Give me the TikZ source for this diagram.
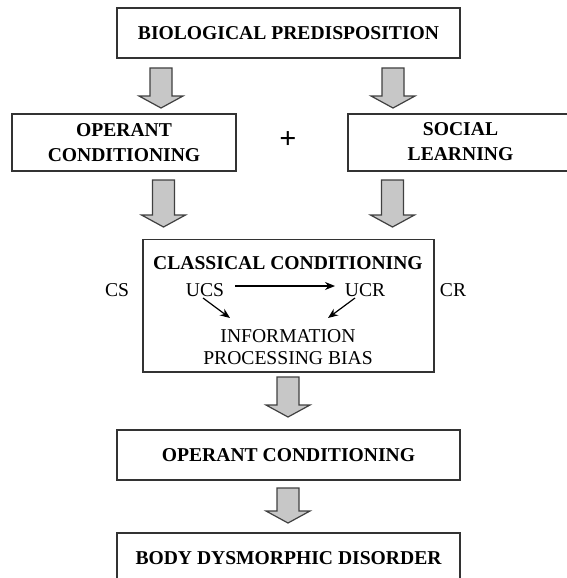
\documentclass[tikz,border=0pt]{standalone}
\usepackage{fontspec}
\setmainfont{Liberation Serif}
\usetikzlibrary{calc,arrows.meta}
\tikzset{
  box/.style={draw=black!80, line width=1.7pt, inner sep=0pt, align=center},
  lbl/.style={inner sep=0pt, align=center, font=\fontsize{19.6}{24.5}\selectfont\bfseries},
  plain/.style={inner sep=0pt, align=center, font=\fontsize{19.6}{21.5}\selectfont},
  blk/.style={draw=black!75, line width=1.2pt, fill=black!22, line join=miter},
  thin/.style={line width=1.2pt, -{Stealth[length=10pt,width=8pt]}}
}
\newcommand\blockarrow[2]{%
  \draw[blk] let \p1=(#1), \p2=(#2) in
    (\x1-11pt,\y1) -- (\x1+11pt,\y1) -- (\x1+11pt,\y2+12pt) -- (\x1+22pt,\y2+12pt)
    -- (\x2,\y2) -- (\x1-22pt,\y2+12pt) -- (\x1-11pt,\y2+12pt) -- cycle;}
\begin{document}
\begin{tikzpicture}[x=1pt,y=-1pt]
\useasboundingbox (0,0) rectangle (567,578);
\clip (0,0) rectangle (567,578);
% boxes
\node[box, lbl, minimum width=343pt, minimum height=50pt] (bio) at (288.5,33) {BIOLOGICAL PREDISPOSITION};
\node[box, lbl, minimum width=224pt, minimum height=57pt] (op1) at (124,142.5) {OPERANT\\CONDITIONING};
\node[box, minimum width=225pt, minimum height=57pt] (soc) at (460.5,142.5) {};
\node[lbl] (soct) at (460.5,141.5) {SOCIAL\\LEARNING};
\node[inner sep=0pt, font=\fontsize{30}{30}\selectfont\bfseries] (plus) at (288,140) {+};
\node[box, minimum width=291pt, minimum height=132.5pt] (cc) at (288.5,305.75) {};
\node[lbl] (cct) at (288,263) {CLASSICAL CONDITIONING};
\node[plain] (cs) at (117,290) {CS};
\node[plain] (cr) at (453,290) {CR};
\node[plain] (ucs) at (205,290) {UCS};
\node[plain] (ucr) at (365,290) {UCR};
\node[plain] (info) at (288,347) {INFORMATION\\PROCESSING BIAS};
\node[box, lbl, minimum width=343pt, minimum height=50pt] (op2) at (288.5,455) {OPERANT CONDITIONING};
\node[box, lbl, minimum width=343pt, minimum height=50pt] (bdd) at (288.5,558) {BODY DYSMORPHIC DISORDER};
% small arrows
\coordinate (u1) at (235,286); \coordinate (u2) at (335,286);
\coordinate (d1) at (203,298); \coordinate (d2) at (230,318);
\coordinate (e1) at (355,298); \coordinate (e2) at (328,318);
\draw[thin] (u1) -- (u2);
\draw[thin] (d1) -- (d2);
\draw[thin] (e1) -- (e2);
% block arrows
\coordinate (a1s) at (161,68);   \coordinate (a1e) at (161,108);
\coordinate (a2s) at (393,68);   \coordinate (a2e) at (393,108);
\coordinate (a3s) at (163.5,180); \coordinate (a3e) at (163.5,227);
\coordinate (a4s) at (392.5,180); \coordinate (a4e) at (392.5,227);
\coordinate (a5s) at (288,377);  \coordinate (a5e) at (288,417);
\coordinate (a6s) at (288,488);  \coordinate (a6e) at (288,523);
\blockarrow{a1s}{a1e}
\blockarrow{a2s}{a2e}
\blockarrow{a3s}{a3e}
\blockarrow{a4s}{a4e}
\blockarrow{a5s}{a5e}
\blockarrow{a6s}{a6e}
\end{tikzpicture}
\end{document}
